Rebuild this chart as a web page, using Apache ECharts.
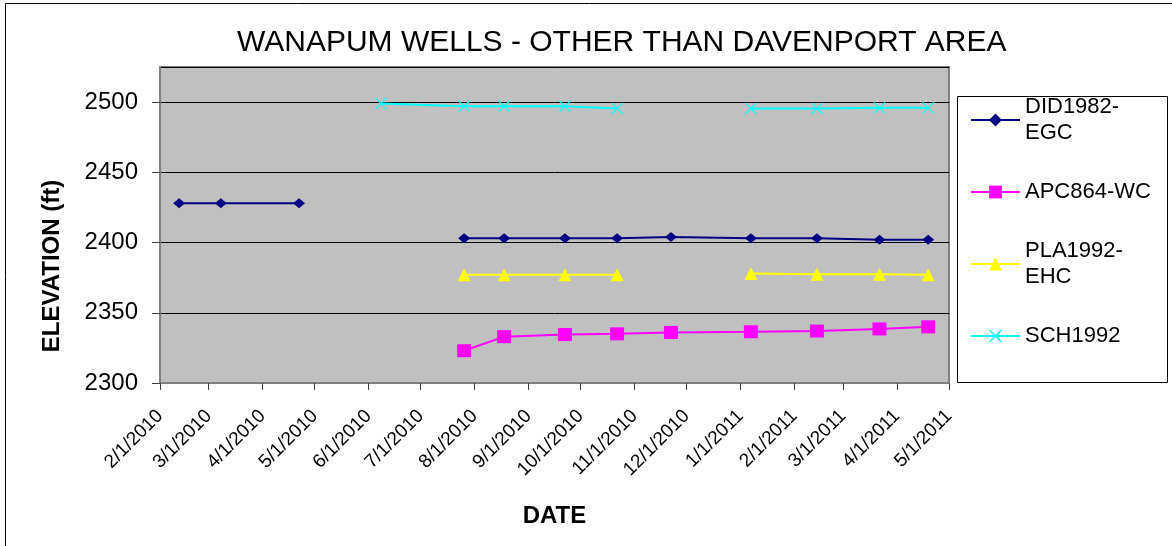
<!DOCTYPE html>
<html>
<head>
<meta charset="utf-8">
<script src="https://cdn.jsdelivr.net/npm/echarts@6/dist/echarts.min.js"></script>
<style>
  html, body { margin: 0; padding: 0; background: #fff; }
  #chart { width: 1172px; height: 546px; }
</style>
</head>
<body>
<div id="chart"></div>
<script>
// sampling dates shared by all wells (M/D)
const dates = [
  '2010-02-12', '2010-03-08', '2010-04-22', '2010-06-08', '2010-07-26',
  '2010-08-18', '2010-09-22', '2010-10-22', '2010-11-22', '2011-01-07',
  '2011-02-14', '2011-03-22', '2011-04-19'
];

// elevations (ft), null = no reading
const did1982 = [2428, 2428, 2428, null, 2403, 2403, 2403, 2403, 2404, 2403, 2403, 2402, 2402];
const apc864 = [null, null, null, null, 2323, 2333, 2334.5, 2335, 2336, 2336.5, 2337, 2338.5, 2340];
const pla1992 = [null, null, null, null, 2377, 2377, 2377, 2377, null, 2378, 2377.5, 2377.5, 2377];
const sch1992 = [null, null, null, 2499, 2497, 2497, 2497, 2495.5, null, 2495.5, 2495.5, 2496, 2496];

const seriesNames = ['DID1982-EGC', 'APC864-WC', 'PLA1992-EHC', 'SCH1992'];
const legendLabels = ['DID1982-\nEGC', 'APC864-WC', 'PLA1992-\nEHC', 'SCH1992'];

const FONT = '"Liberation Sans", Arial, sans-serif';
const xMark = 'path://M0,0.7L0.7,0L10,9.3L9.3,10Z M9.3,0L10,0.7L0.7,10L0,9.3Z';

const pairs = vals => dates.map((d, i) => [d, vals[i]]);

const chart = echarts.init(document.getElementById('chart'));

function lineSeries(name, vals, color, symbol, size) {
  return {
    name: name,
    type: 'line',
    data: pairs(vals),
    connectNulls: false,
    symbol: symbol,
    symbolSize: size,
    showSymbol: true,
    lineStyle: { color: color, width: 2 },
    itemStyle: { color: color },
    emphasis: { disabled: true }
  };
}

// every legend entry gets the same box height so the icon sits on the first text line
const twoLine = { padding: [26, 0, 0, 0] };
const oneLine = { padding: [26, 0, 26, 0] };

const option = {
  animation: false,
  backgroundColor: '#fff',
  title: {
    text: 'WANAPUM WELLS - OTHER THAN DAVENPORT AREA',
    left: 237,
    top: 28,
    padding: 0,
    textStyle: { fontFamily: FONT, fontSize: 30, fontWeight: 'normal', color: '#000' }
  },
  grid: {
    left: 160, right: 223, top: 67, bottom: 163,
    show: true,
    backgroundColor: '#C0C0C0',
    borderColor: '#808080',
    borderWidth: 2
  },
  legend: {
    orient: 'vertical',
    left: 970,
    top: 81,
    padding: 0,
    itemWidth: 49,
    itemHeight: 16,
    itemGap: -6,
    textStyle: { fontFamily: FONT, fontSize: 22, lineHeight: 26, color: '#000' },
    formatter: name => legendLabels[seriesNames.indexOf(name)],
    data: [
      { name: seriesNames[0], textStyle: twoLine },
      { name: seriesNames[1], textStyle: oneLine },
      { name: seriesNames[2], textStyle: twoLine },
      { name: seriesNames[3], textStyle: oneLine }
    ]
  },
  xAxis: {
    type: 'time',
    min: '2010-02-01',
    max: '2011-05-01',
    splitNumber: 15,
    minInterval: 28 * 86400000,
    maxInterval: 31 * 86400000,
    name: 'DATE',
    nameLocation: 'middle',
    nameGap: 121,
    nameTextStyle: { fontFamily: FONT, fontSize: 24, fontWeight: 'bold', color: '#000' },
    axisLine: { lineStyle: { color: '#808080', width: 2 } },
    axisTick: { show: true, length: 7, lineStyle: { color: '#404040' } },
    splitLine: { show: false },
    axisLabel: {
      rotate: 45,
      margin: 30,
      interval: 0,
      fontFamily: FONT,
      fontSize: 19,
      color: '#000',
      formatter: v => {
        const d = new Date(v);
        return (d.getMonth() + 1) + '/' + d.getDate() + '/' + d.getFullYear();
      }
    }
  },
  yAxis: {
    type: 'value',
    min: 2300,
    max: 2525,
    interval: 50,
    axisLine: { show: true, lineStyle: { color: '#808080', width: 2 } },
    axisTick: { show: true, length: 8, lineStyle: { color: '#404040' } },
    splitLine: { show: true, lineStyle: { color: '#000', width: 1 } },
    axisLabel: {
      margin: 22,
      showMaxLabel: false,
      fontFamily: FONT,
      fontSize: 24,
      color: '#000',
      formatter: v => String(v)
    }
  },
  graphic: [
    {
      type: 'rect',
      shape: { x: 5.5, y: 3.5, width: 1400, height: 800 },
      style: { fill: 'none', stroke: '#000', lineWidth: 1 },
      silent: true
    },
    {
      type: 'rect',
      shape: { x: 957.5, y: 96.5, width: 210, height: 286 },
      style: { fill: '#fff', stroke: '#000', lineWidth: 1 },
      silent: true
    },
    {
      type: 'text',
      x: 52,
      y: 266,
      rotation: Math.PI / 2,
      style: {
        text: 'ELEVATION (ft)',
        font: 'bold 24px ' + FONT,
        fill: '#000',
        align: 'center',
        verticalAlign: 'middle',
        textAlign: 'center',
        textVerticalAlign: 'middle'
      }
    }
  ],
  series: [
    lineSeries(seriesNames[0], did1982, '#000080', 'diamond', [12, 10]),
    lineSeries(seriesNames[1], apc864, '#FF00FF', 'rect', [14, 13]),
    lineSeries(seriesNames[2], pla1992, '#FFFF00', 'triangle', [13, 13]),
    lineSeries(seriesNames[3], sch1992, '#00FFFF', xMark, [12, 12])
  ]
};

chart.setOption(option);
</script>
</body>
</html>
